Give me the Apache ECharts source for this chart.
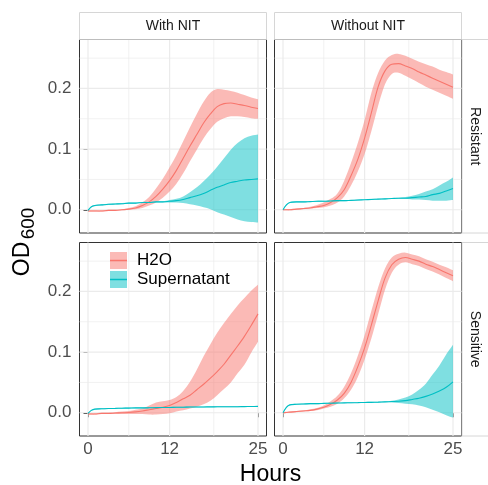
<!DOCTYPE html>
<html>
<head>
<meta charset="utf-8">
<script src="https://cdn.jsdelivr.net/npm/echarts@6/dist/echarts.min.js"></script>
<style>html,body{margin:0;padding:0;background:#fff}#chart{width:488px;height:485px}</style>
</head>
<body>
<div id="chart"></div>
<script>
// ---------- data (hours, OD600) ----------
const hours = [0,0.5,1,2,3,4,5,6,7,8,9,10,11,12,13,14,15,16,17,18,19,20,21,22,23,24,25];
const xTickLabels = [0, 12, 25];
const xMinorGrid = [6, 18.5];
const yTickLabels = [0, 0.1, 0.2];
const yMinorGrid = [0.05, 0.15, 0.25];
const seriesNames = ['H2O', 'Supernatant'];
const colNames = ['With NIT', 'Without NIT'];
const rowNames = ['Resistant', 'Sensitive'];

// With NIT / Resistant
const tlH2oMid = [-0.002,-0.002,-0.002,-0.002,-0.001,-0.001,0.000,0.001,0.003,0.007,0.013,0.022,0.034,0.048,0.065,0.085,0.105,0.124,0.143,0.158,0.170,0.175,0.176,0.174,0.172,0.169,0.167];
const tlH2oHi  = [-0.001,-0.001,-0.001,-0.001,0.000,0.000,0.001,0.003,0.006,0.012,0.021,0.035,0.051,0.070,0.090,0.113,0.136,0.158,0.178,0.193,0.199,0.198,0.196,0.193,0.189,0.185,0.182];
const tlH2oLo  = [-0.003,-0.003,-0.003,-0.003,-0.002,-0.002,-0.001,0.000,0.001,0.003,0.007,0.012,0.020,0.030,0.043,0.060,0.080,0.099,0.118,0.133,0.145,0.151,0.154,0.154,0.153,0.151,0.150];
const tlSupMid = [-0.001,0.005,0.007,0.008,0.009,0.0095,0.010,0.011,0.011,0.012,0.012,0.013,0.013,0.014,0.015,0.017,0.020,0.023,0.027,0.032,0.037,0.041,0.045,0.047,0.049,0.050,0.051];
const tlSupHi  = [0.000,0.006,0.008,0.009,0.010,0.0105,0.011,0.012,0.012,0.013,0.013,0.014,0.014,0.016,0.018,0.022,0.029,0.037,0.047,0.058,0.071,0.085,0.099,0.110,0.118,0.122,0.124];
const tlSupLo  = [-0.002,0.004,0.006,0.007,0.008,0.0085,0.009,0.010,0.010,0.011,0.011,0.012,0.012,0.012,0.012,0.011,0.009,0.007,0.004,0.001,-0.004,-0.008,-0.012,-0.016,-0.019,-0.020,-0.021];

// Without NIT / Resistant
const trH2oMid = [0.000,0.000,0.000,0.001,0.002,0.003,0.005,0.007,0.012,0.020,0.033,0.056,0.083,0.118,0.160,0.203,0.229,0.240,0.241,0.237,0.233,0.227,0.222,0.217,0.212,0.207,0.202];
const trH2oHi  = [0.001,0.001,0.001,0.002,0.003,0.005,0.008,0.012,0.018,0.027,0.048,0.077,0.110,0.148,0.193,0.226,0.246,0.255,0.257,0.254,0.249,0.244,0.240,0.236,0.231,0.227,0.223];
const trH2oLo  = [-0.001,-0.001,-0.001,0.000,0.001,0.002,0.003,0.004,0.007,0.012,0.022,0.040,0.063,0.092,0.130,0.172,0.207,0.224,0.226,0.221,0.215,0.209,0.203,0.198,0.193,0.188,0.183];
const trSupMid = [0.000,0.008,0.012,0.013,0.013,0.0135,0.014,0.014,0.0145,0.015,0.015,0.0155,0.016,0.0165,0.017,0.0175,0.018,0.0185,0.019,0.019,0.020,0.021,0.022,0.025,0.027,0.031,0.035];
const trSupHi  = [0.001,0.009,0.013,0.014,0.014,0.014,0.015,0.015,0.015,0.016,0.016,0.016,0.017,0.017,0.018,0.018,0.019,0.019,0.020,0.021,0.023,0.026,0.030,0.034,0.040,0.046,0.053];
const trSupLo  = [-0.001,0.007,0.011,0.012,0.012,0.013,0.013,0.013,0.014,0.014,0.014,0.015,0.015,0.016,0.016,0.017,0.017,0.018,0.018,0.018,0.017,0.017,0.016,0.015,0.015,0.015,0.016];

// With NIT / Sensitive
const blH2oMid = [-0.002,-0.002,-0.002,-0.001,-0.001,-0.0005,0.000,0.0005,0.0015,0.003,0.005,0.007,0.009,0.012,0.017,0.023,0.029,0.038,0.047,0.057,0.068,0.080,0.095,0.110,0.126,0.144,0.163];
const blH2oHi  = [-0.001,-0.001,-0.001,0.000,0.000,0.001,0.002,0.003,0.005,0.007,0.012,0.017,0.019,0.021,0.026,0.036,0.051,0.071,0.093,0.113,0.132,0.148,0.163,0.177,0.189,0.201,0.211];
const blH2oLo  = [-0.003,-0.003,-0.003,-0.002,-0.002,-0.002,-0.002,-0.002,-0.002,-0.002,-0.003,-0.003,-0.002,-0.001,0.002,0.004,0.007,0.010,0.014,0.020,0.029,0.039,0.050,0.065,0.079,0.099,0.117];
const blSupMid = [-0.001,0.004,0.006,0.0065,0.007,0.0072,0.0075,0.0077,0.008,0.008,0.0082,0.0085,0.0087,0.0088,0.009,0.0092,0.0094,0.0095,0.0096,0.0097,0.0098,0.0099,0.010,0.010,0.0102,0.0104,0.0105];
const blSupHi  = [-0.0002,0.0048,0.0068,0.0073,0.0078,0.008,0.0083,0.0085,0.0088,0.0088,0.009,0.0093,0.0095,0.0096,0.0098,0.010,0.0102,0.0103,0.0104,0.0105,0.0106,0.0107,0.0108,0.0108,0.011,0.0112,0.0113];
const blSupLo  = [-0.0018,0.0032,0.0052,0.0057,0.0062,0.0064,0.0067,0.0069,0.0072,0.0072,0.0074,0.0077,0.0079,0.008,0.0082,0.0084,0.0086,0.0087,0.0088,0.0089,0.009,0.0091,0.0092,0.0092,0.0094,0.0096,0.0097];

// Without NIT / Sensitive
const brH2oMid = [0.000,0.0005,0.001,0.002,0.003,0.004,0.006,0.009,0.014,0.021,0.032,0.050,0.076,0.107,0.145,0.185,0.222,0.244,0.253,0.256,0.253,0.250,0.245,0.241,0.236,0.231,0.226];
const brH2oHi  = [0.001,0.0015,0.002,0.003,0.004,0.006,0.008,0.012,0.019,0.028,0.043,0.065,0.094,0.128,0.168,0.207,0.238,0.256,0.262,0.264,0.261,0.258,0.253,0.249,0.244,0.240,0.235];
const brH2oLo  = [-0.001,-0.0005,0.000,0.001,0.002,0.003,0.004,0.007,0.010,0.015,0.024,0.038,0.059,0.088,0.123,0.163,0.203,0.231,0.244,0.248,0.245,0.242,0.237,0.233,0.228,0.222,0.217];
const brSupMid = [0.000,0.009,0.013,0.014,0.0145,0.015,0.015,0.0155,0.0158,0.016,0.0163,0.0165,0.0167,0.017,0.0172,0.0175,0.018,0.0185,0.019,0.020,0.022,0.024,0.027,0.031,0.036,0.042,0.051];
const brSupHi  = [0.0008,0.0098,0.0138,0.0148,0.0153,0.0158,0.0158,0.0163,0.0166,0.0168,0.0171,0.0173,0.0175,0.0178,0.018,0.0183,0.0188,0.020,0.022,0.025,0.030,0.038,0.048,0.063,0.078,0.096,0.112];
const brSupLo  = [-0.0008,0.0082,0.0122,0.0132,0.0137,0.0142,0.0142,0.0147,0.015,0.0152,0.0155,0.0157,0.0159,0.0162,0.0164,0.0167,0.0172,0.017,0.016,0.015,0.014,0.012,0.009,0.005,0.001,-0.004,-0.008];

// ---------- layout / style ----------
const FONT = '"Liberation Sans", Arial, Helvetica, sans-serif';
const LINE_COLORS = ['#F8766D', '#00BFC4'];
const FILL_COLORS = ['rgba(248,118,109,0.5)', 'rgba(0,191,196,0.5)'];
const X_MIN = -1.25, X_MAX = 26.25, Y_MIN = -0.0383, Y_MAX = 0.2807;

const panels = [
  { rect: [79.5, 39.5, 187, 193.5], showX: false, showY: true,
    mid: [tlH2oMid, tlSupMid], hi: [tlH2oHi, tlSupHi], lo: [tlH2oLo, tlSupLo] },
  { rect: [274.5, 39.5, 187, 193.5], showX: false, showY: false,
    mid: [trH2oMid, trSupMid], hi: [trH2oHi, trSupHi], lo: [trH2oLo, trSupLo] },
  { rect: [79.5, 242.5, 187, 193.5], showX: true, showY: true,
    mid: [blH2oMid, blSupMid], hi: [blH2oHi, blSupHi], lo: [blH2oLo, blSupLo] },
  { rect: [274.5, 242.5, 187, 193.5], showX: true, showY: false,
    mid: [brH2oMid, brSupMid], hi: [brH2oHi, brSupHi], lo: [brH2oLo, brSupLo] }
];

function curve(pts) {
  let d = '';
  for (let i = 0; i < pts.length - 1; i++) {
    const p0 = pts[Math.max(i - 1, 0)], p1 = pts[i], p2 = pts[i + 1], p3 = pts[Math.min(i + 2, pts.length - 1)];
    const c1x = p1[0] + (p2[0] - p0[0]) / 6, c1y = p1[1] + (p2[1] - p0[1]) / 6;
    const c2x = p2[0] - (p3[0] - p1[0]) / 6, c2y = p2[1] - (p3[1] - p1[1]) / 6;
    d += ' C' + c1x + ',' + c1y + ' ' + c2x + ',' + c2y + ' ' + p2[0] + ',' + p2[1];
  }
  return d;
}

const grids = [], xAxes = [], yAxes = [], series = [];
panels.forEach((p, i) => {
  grids.push({ left: p.rect[0], top: p.rect[1], width: p.rect[2], height: p.rect[3],
    show: true, backgroundColor: '#fff', borderColor: '#333333', borderWidth: 1, containLabel: false });
  xAxes.push({ type: 'value', gridIndex: i, min: X_MIN, max: X_MAX,
    axisLine: { show: false }, splitLine: { show: false },
    axisTick: { show: p.showX, customValues: xTickLabels, length: 4.5, lineStyle: { color: '#333333', width: 1 } },
    axisLabel: { show: p.showX, customValues: xTickLabels, margin: 5, fontSize: 17, color: '#4D4D4D', fontFamily: FONT,
      formatter: v => String(v) } });
  yAxes.push({ type: 'value', gridIndex: i, min: Y_MIN, max: Y_MAX,
    axisLine: { show: false }, splitLine: { show: false },
    axisTick: { show: p.showY, customValues: yTickLabels, length: 4.5, lineStyle: { color: '#333333', width: 1 } },
    axisLabel: { show: p.showY, customValues: yTickLabels, margin: 8, fontSize: 17, color: '#4D4D4D', fontFamily: FONT,
      formatter: v => v.toFixed(1) } });
  // panel grid lines
  series.push({ type: 'custom', name: 'grid' + i, xAxisIndex: i, yAxisIndex: i, z: 1, silent: true,
    data: [[0, 0]],
    renderItem: (params, api) => {
      const cs = params.coordSys;
      const ch = [];
      const vline = (v, w) => { const x = api.coord([v, 0])[0];
        ch.push({ type: 'line', shape: { x1: x, y1: cs.y, x2: x, y2: cs.y + cs.height }, style: { stroke: '#EBEBEB', lineWidth: w } }); };
      const hline = (v, w) => { const y = api.coord([0, v])[1];
        ch.push({ type: 'line', shape: { x1: cs.x, y1: y, x2: cs.x + cs.width, y2: y }, style: { stroke: '#EBEBEB', lineWidth: w } }); };
      xMinorGrid.forEach(v => vline(v, 0.7));
      yMinorGrid.forEach(v => hline(v, 0.7));
      xTickLabels.forEach(v => vline(v, 1.2));
      yTickLabels.forEach(v => hline(v, 1.2));
      return { type: 'group', children: ch };
    } });
  // ribbons
  [0, 1].forEach(s => {
    const lo = p.lo[s], hi = p.hi[s];
    series.push({ type: 'custom', name: seriesNames[s], xAxisIndex: i, yAxisIndex: i, z: 2, silent: true,
      data: hours.map((h, k) => [h, lo[k], hi[k]]),
      encode: { x: 0, y: [1, 2] },
      renderItem: (params, api) => {
        if (params.dataIndex !== 0) return null;
        const up = hours.map((h, k) => api.coord([h, hi[k]]));
        const dn = hours.map((h, k) => api.coord([h, lo[k]])).reverse();
        const d = 'M' + up[0][0] + ',' + up[0][1] + curve(up) + ' L' + dn[0][0] + ',' + dn[0][1] + curve(dn) + ' Z';
        return { type: 'path', shape: { pathData: d }, style: { fill: FILL_COLORS[s] } };
      } });
  });
  // mean lines
  [0, 1].forEach(s => {
    series.push({ type: 'line', name: seriesNames[s], xAxisIndex: i, yAxisIndex: i, z: 3, silent: true,
      showSymbol: false, symbol: 'none', smooth: 0.33,
      lineStyle: { color: LINE_COLORS[s], width: 1.1 },
      data: hours.map((h, k) => [h, p.mid[s][k]]) });
  });
});

const LINE_ICON = 'path://M0,0M17,17M0,7.75L17,7.75L17,9.25L0,9.25Z';
const legendBase = { orient: 'vertical', left: 110, top: 252, itemWidth: 17, itemHeight: 17, itemGap: 2,
  padding: 0, selectedMode: false };

const graphics = [];
// top strips
[0, 1].forEach(c => {
  const r = panels[c].rect;
  graphics.push({ type: 'rect', z: 10, shape: { x: r[0], y: 12.5, width: r[2], height: 27 },
    style: { fill: '#fff', stroke: '#D6D6D6', lineWidth: 1 } });
  graphics.push({ type: 'line', z: 10, shape: { x1: r[0], y1: 39.5, x2: r[0] + r[2], y2: 39.5 },
    style: { stroke: '#BDBDBD', lineWidth: 1.2 } });
  graphics.push({ type: 'text', z: 11, x: r[0] + r[2] / 2, y: 26.5,
    style: { text: colNames[c], fontSize: 14, fontFamily: FONT, fill: '#1A1A1A', align: 'center', verticalAlign: 'middle' } });
});
// right strips
[1, 3].forEach((pi, rIdx) => {
  const r = panels[pi].rect;
  graphics.push({ type: 'rect', z: 0, shape: { x: 462, y: r[1], width: 40, height: r[3] },
    style: { fill: '#fff', stroke: '#D6D6D6', lineWidth: 1 } });
  graphics.push({ type: 'text', z: 11, x: 474.7, y: r[1] + r[3] / 2, rotation: -Math.PI / 2,
    style: { text: rowNames[rIdx], fontSize: 14, fontFamily: FONT, fill: '#1A1A1A', align: 'center', verticalAlign: 'middle' } });
});
// axis titles
graphics.push({ type: 'text', z: 11, x: 270.5, y: 475,
  style: { text: 'Hours', fontSize: 23, fontFamily: FONT, fill: '#000', align: 'center', verticalAlign: 'middle' } });
graphics.push({ type: 'text', z: 11, x: 22.8, y: 259, rotation: Math.PI / 2,
  style: { text: 'OD', fontSize: 23, fontFamily: FONT, fill: '#000', align: 'center', verticalAlign: 'middle' } });
graphics.push({ type: 'text', z: 11, x: 28.5, y: 223.5, rotation: Math.PI / 2,
  style: { text: '600', fontSize: 19, fontFamily: FONT, fill: '#000', align: 'center', verticalAlign: 'middle' } });

const chart = echarts.init(document.getElementById('chart'), null, { renderer: 'canvas' });
chart.setOption({
  animation: false,
  backgroundColor: '#fff',
  grid: grids,
  xAxis: xAxes,
  yAxis: yAxes,
  legend: [
    Object.assign({}, legendBase, {
      textStyle: { fontSize: 17, fontFamily: FONT, color: '#000', padding: [0, 0, 0, 5] },
      data: seriesNames.map((n, s) => ({ name: n, icon: 'rect', itemStyle: { color: FILL_COLORS[s], borderWidth: 0 } }))
    }),
    Object.assign({}, legendBase, {
      textStyle: { fontSize: 17, fontFamily: FONT, color: 'rgba(0,0,0,0)', padding: [0, 0, 0, 5] },
      data: seriesNames.map((n, s) => ({ name: n, icon: LINE_ICON, itemStyle: { color: LINE_COLORS[s], borderWidth: 0 } }))
    })
  ],
  graphic: graphics,
  series: series
});
</script>
</body>
</html>
